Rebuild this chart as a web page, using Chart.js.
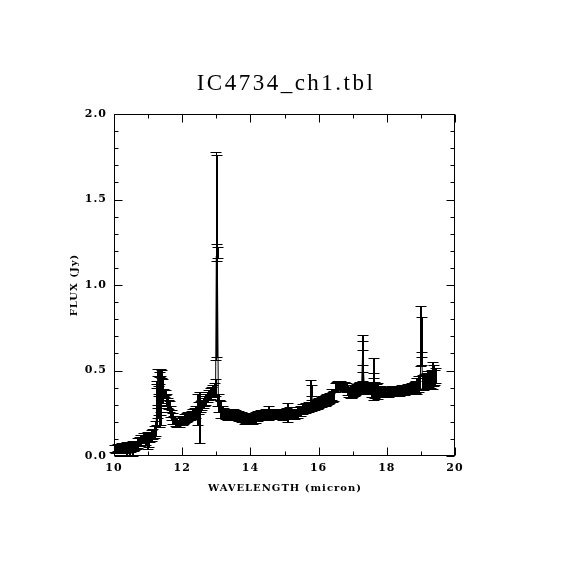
<!DOCTYPE html>
<html>
<head>
<meta charset="utf-8">
<script src="https://cdn.jsdelivr.net/npm/chart.js@4.4.1/dist/chart.umd.min.js"></script>
<style>
html,body{margin:0;padding:0;background:#fff;}
canvas{display:block;}
</style>
</head>
<body>
<canvas id="c" width="570" height="570"></canvas>
<script>
const titleText = "IC4734_ch1.tbl";
const xTitle = "WAVELENGTH (micron)";
const yTitle = "FLUX (Jy)";

const wavelength = [
10.03,10.07,10.11,10.15,10.19,10.23,10.27,10.31,10.35,10.39,10.43,10.47,10.51,10.55,10.59,10.63,10.67,10.71,10.75,10.79,
10.83,10.87,10.91,10.95,10.99,11.03,11.07,11.11,11.15,11.19,11.23,
11.26,11.27,11.28,11.29,11.30,11.31,11.32,11.33,11.35,11.36,11.37,11.38,11.39,11.41,11.44,11.47,11.50,11.53,11.56,11.59,
11.62,11.65,11.68,11.71,11.74,11.77,
11.81,11.85,11.89,11.93,11.97,12.01,12.05,12.09,12.13,12.17,12.21,12.25,12.29,12.33,12.37,12.41,12.45,12.49,12.52,12.55,
12.59,12.63,12.67,12.71,12.75,12.79,12.83,12.87,12.91,12.95,12.98,13.00,13.01,13.02,13.03,13.04,13.06,13.09,13.12,13.15,
13.19,13.23,13.27,
13.31,13.35,13.39,13.43,13.47,13.51,13.55,13.59,13.63,13.67,13.71,13.75,13.79,13.83,13.87,13.91,13.95,13.99,14.03,14.07,
14.11,14.15,14.19,14.23,14.27,14.31,14.35,14.39,14.43,14.47,14.51,14.55,14.59,14.63,14.67,14.71,14.75,14.79,14.83,14.87,
14.91,14.95,14.99,15.03,15.07,15.11,15.15,15.19,15.23,15.27,15.31,15.35,15.39,15.43,15.47,15.51,15.55,15.59,15.63,15.67,
15.71,15.75,15.79,15.80,15.82,15.86,15.90,15.94,15.98,16.02,16.06,16.10,16.14,16.18,16.22,16.26,16.30,16.34,16.38,16.42,
16.46,
16.50,16.54,16.58,16.62,16.66,16.70,16.74,16.78,16.82,16.86,16.90,16.94,16.98,17.02,17.06,17.10,17.14,17.18,17.22,17.26,
17.29,17.30,17.31,17.34,17.38,17.42,17.46,17.50,17.54,17.58,17.62,17.63,17.66,17.70,17.74,17.78,17.82,17.86,17.90,17.94,
17.98,18.02,18.06,18.10,18.14,18.18,18.22,18.26,18.30,18.34,18.38,18.42,18.46,18.50,18.54,18.58,18.62,18.66,18.70,18.74,
18.78,18.82,18.86,18.90,18.94,18.98,19.01,19.02,19.03,19.05,19.09,19.13,19.17,19.21,19.25,19.29,19.33,19.36,19.37,19.40,
19.44
];

const flux = [
0.045,0.040,0.050,0.045,0.040,0.050,0.045,0.050,0.045,0.040,0.050,0.035,0.050,0.045,0.055,0.060,0.065,0.075,0.085,0.090,
0.100,0.105,0.110,0.100,0.090,0.095,0.110,0.120,0.130,0.140,0.160,
0.300,0.420,0.350,0.490,0.250,0.300,0.490,0.380,0.330,0.440,0.220,0.490,0.270,0.480,0.380,0.370,0.365,0.370,0.330,0.310,
0.300,0.290,0.260,0.240,0.220,0.210,
0.200,0.195,0.190,0.195,0.200,0.205,0.210,0.220,0.225,0.230,0.235,0.235,0.240,0.245,0.250,0.260,0.270,0.280,0.225,0.290,
0.300,0.310,0.320,0.330,0.345,0.355,0.365,0.375,0.385,0.395,0.400,1.170,1.170,1.450,1.190,1.190,0.330,0.310,0.290,0.270,
0.260,0.250,0.245,
0.240,0.240,0.245,0.240,0.240,0.245,0.240,0.240,0.240,0.235,0.235,0.230,0.225,0.220,0.220,0.215,0.215,0.215,0.215,0.220,
0.220,0.225,0.230,0.235,0.235,0.240,0.240,0.240,0.245,0.245,0.245,0.250,0.245,0.245,0.245,0.245,0.245,0.245,0.245,0.245,
0.240,0.240,0.240,0.245,0.250,0.255,0.255,0.250,0.245,0.245,0.245,0.250,0.255,0.260,0.265,0.270,0.275,0.280,0.280,0.285,
0.285,0.290,0.382,0.383,0.295,0.300,0.300,0.305,0.305,0.310,0.310,0.315,0.320,0.320,0.325,0.330,0.335,0.340,0.360,0.345,
0.350,
0.400,0.410,0.415,0.415,0.415,0.410,0.410,0.405,0.400,0.385,0.375,0.370,0.370,0.375,0.380,0.385,0.390,0.395,0.400,0.400,
0.600,0.600,0.530,0.405,0.405,0.405,0.400,0.400,0.395,0.390,0.450,0.470,0.385,0.385,0.380,0.380,0.380,0.375,0.375,0.375,
0.375,0.375,0.375,0.375,0.380,0.380,0.380,0.380,0.380,0.380,0.380,0.385,0.385,0.385,0.385,0.385,0.390,0.390,0.390,0.395,
0.395,0.400,0.405,0.410,0.420,0.425,0.700,0.695,0.570,0.430,0.430,0.435,0.440,0.445,0.450,0.450,0.460,0.470,0.470,0.460,
0.470
];

const fluxErr = [
0.020,0.025,0.020,0.025,0.020,0.025,0.020,0.025,0.025,0.040,0.025,0.035,0.025,0.045,0.025,0.025,0.025,0.030,0.025,0.030,
0.025,0.030,0.025,0.035,0.050,0.045,0.030,0.030,0.030,0.035,0.045,
0.120,0.020,0.050,0.020,0.030,0.060,0.020,0.030,0.160,0.020,0.040,0.020,0.030,0.025,0.070,0.020,0.020,0.015,0.035,0.030,
0.025,0.030,0.030,0.030,0.030,0.025,
0.025,0.025,0.020,0.025,0.020,0.025,0.025,0.025,0.025,0.025,0.025,0.025,0.025,0.030,0.030,0.035,0.090,0.035,0.150,0.030,
0.030,0.030,0.030,0.030,0.030,0.030,0.030,0.030,0.030,0.030,0.050,0.610,0.590,0.000,0.050,0.030,0.035,0.050,0.035,0.050,
0.035,0.030,0.030,
0.025,0.030,0.025,0.030,0.025,0.030,0.025,0.030,0.025,0.030,0.025,0.030,0.025,0.030,0.025,0.030,0.025,0.030,0.025,0.030,
0.025,0.030,0.025,0.030,0.025,0.030,0.025,0.030,0.025,0.030,0.025,0.040,0.025,0.030,0.025,0.030,0.025,0.030,0.025,0.030,
0.025,0.030,0.025,0.030,0.030,0.055,0.030,0.025,0.030,0.025,0.030,0.025,0.030,0.025,0.030,0.025,0.030,0.025,0.030,0.025,
0.030,0.025,0.064,0.033,0.030,0.025,0.030,0.025,0.030,0.030,0.025,0.030,0.030,0.025,0.030,0.030,0.030,0.030,0.030,0.030,
0.030,
0.025,0.025,0.025,0.025,0.025,0.025,0.025,0.025,0.025,0.030,0.030,0.030,0.030,0.030,0.030,0.030,0.030,0.030,0.030,0.030,
0.110,0.070,0.090,0.030,0.030,0.030,0.035,0.030,0.035,0.045,0.125,0.015,0.045,0.035,0.045,0.030,0.030,0.030,0.030,0.030,
0.030,0.025,0.030,0.025,0.030,0.025,0.030,0.025,0.030,0.025,0.030,0.025,0.030,0.025,0.030,0.025,0.030,0.025,0.030,0.030,
0.030,0.030,0.035,0.045,0.045,0.040,0.175,0.115,0.040,0.045,0.045,0.045,0.045,0.050,0.045,0.050,0.045,0.080,0.060,0.045,
0.045
];

const xMin = 10, xMax = 20, xMajorStep = 2, xMinorStep = 1;
const yMin = 0, yMax = 2, yMajorStep = 0.5, yMinorStep = 0.1;

const points = wavelength.map((w, i) => ({x: w, y: flux[i]}));

const tickFont = {family: "DejaVu Serif", weight: "bold", size: 11};

const framePlugin = {
  id: 'frame',
  beforeDraw(chart) {
    chart.ctx.letterSpacing = '1px';
  },
  afterDatasetsDraw(chart) {
    const ctx = chart.ctx;
    const xs = chart.scales.x, ys = chart.scales.y;
    const capHalf = 5.5;
    ctx.save();
    ctx.strokeStyle = '#000';
    // vertical bars: dense band bars drawn 2px so the band fills, long outlier bars hairline
    for (let i = 0; i < wavelength.length; i++) {
      const e = fluxErr[i];
      if (!(e > 0)) continue;
      const wide = e < 0.3;
      ctx.lineWidth = wide ? 2 : 1;
      const px = Math.round(xs.getPixelForValue(wavelength[i])) + (wide ? 0 : 0.5);
      const top = Math.round(ys.getPixelForValue(flux[i] + e)) + 0.5;
      const bot = Math.round(ys.getPixelForValue(flux[i] - e)) + 0.5;
      ctx.beginPath();
      ctx.moveTo(px, top); ctx.lineTo(px, bot);
      ctx.stroke();
    }
    // caps
    ctx.lineWidth = 1;
    ctx.beginPath();
    for (let i = 0; i < wavelength.length; i++) {
      const e = fluxErr[i];
      if (!(e > 0)) continue;
      const px = Math.round(xs.getPixelForValue(wavelength[i]));
      const top = Math.round(ys.getPixelForValue(flux[i] + e)) + 0.5;
      const bot = Math.round(ys.getPixelForValue(flux[i] - e)) + 0.5;
      ctx.moveTo(px - capHalf, top); ctx.lineTo(px + capHalf, top);
      ctx.moveTo(px - capHalf, bot); ctx.lineTo(px + capHalf, bot);
    }
    ctx.stroke();
    ctx.restore();
  },
  afterDraw(chart) {
    const ctx = chart.ctx;
    const a = chart.chartArea;
    const xs = chart.scales.x, ys = chart.scales.y;
    ctx.save();
    ctx.letterSpacing = '0px';
    ctx.strokeStyle = '#000';
    ctx.lineWidth = 1;
    const L = Math.round(a.left) + 0.5, R = Math.round(a.right) - 0.5;
    const T = Math.round(a.top) + 0.5, B = Math.round(a.bottom) - 0.5;
    ctx.strokeRect(L, T, R - L, B - T);
    ctx.beginPath();
    const nx = Math.round((xMax - xMin) / xMinorStep);
    for (let k = 0; k <= nx; k++) {
      const v = xMin + k * xMinorStep;
      const major = Math.abs((v - xMin) / xMajorStep - Math.round((v - xMin) / xMajorStep)) < 1e-6;
      const len = major ? 8 : 4;
      const px = Math.round(xs.getPixelForValue(v)) + 0.5;
      ctx.moveTo(px, B); ctx.lineTo(px, B - len);
      ctx.moveTo(px, T); ctx.lineTo(px, T + len);
    }
    const ny = Math.round((yMax - yMin) / yMinorStep);
    for (let k = 0; k <= ny; k++) {
      const v = yMin + k * yMinorStep;
      const major = k % Math.round(yMajorStep / yMinorStep) === 0;
      const len = major ? 8 : 4;
      const py = Math.round(ys.getPixelForValue(v)) + 0.5;
      ctx.moveTo(L, py); ctx.lineTo(L + len, py);
      ctx.moveTo(R, py); ctx.lineTo(R - len, py);
    }
    ctx.stroke();

    ctx.fillStyle = '#000';
    ctx.textAlign = 'center';
    ctx.textBaseline = 'alphabetic';
    ctx.font = '23px "Liberation Serif"';
    ctx.letterSpacing = '2.5px';
    ctx.fillText(titleText, 286, 90);

    ctx.font = 'bold 10px "DejaVu Serif"';
    ctx.letterSpacing = '1px';
    ctx.fillText(xTitle, 285, 491);
    ctx.translate(77, 285);
    ctx.rotate(-Math.PI / 2);
    ctx.fillText(yTitle, 0, 0);
    ctx.restore();
    ctx.letterSpacing = '0px';
  }
};

new Chart(document.getElementById('c'), {
  type: 'scatter',
  data: {
    datasets: [{
      data: points,
      showLine: true,
      borderColor: '#000',
      borderWidth: 1,
      pointRadius: 0,
      pointHoverRadius: 0,
      tension: 0
    }]
  },
  options: {
    responsive: false,
    animation: false,
    devicePixelRatio: 1,
    events: [],
    layout: {padding: {left: 64, right: 115, top: 114, bottom: 84}},
    plugins: {legend: {display: false}, tooltip: {enabled: false}, title: {display: false}},
    scales: {
      x: {
        type: 'linear', min: xMin, max: xMax,
        grid: {display: false, drawTicks: false},
        border: {display: false},
        ticks: {stepSize: xMajorStep, color: '#000', font: tickFont, padding: 6, maxRotation: 0,
                callback: v => String(v)},
        afterFit: s => { s.height = 30; }
      },
      y: {
        type: 'linear', min: yMin, max: yMax,
        grid: {display: false, drawTicks: false},
        border: {display: false},
        ticks: {stepSize: yMajorStep, color: '#000', font: tickFont, padding: 7,
                callback: v => v.toFixed(1)},
        afterFit: s => { s.width = 50; }
      }
    }
  },
  plugins: [framePlugin]
});
</script>
</body>
</html>
